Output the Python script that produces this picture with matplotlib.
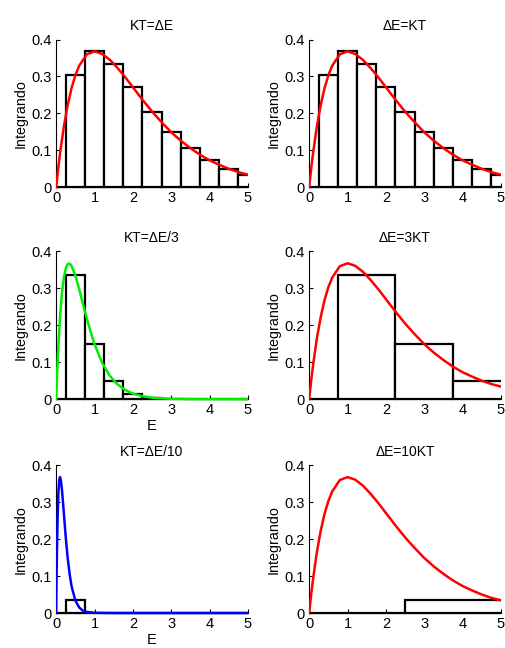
import matplotlib
matplotlib.use("Agg")
import matplotlib.pyplot as plt
from matplotlib.patches import Rectangle

plt.rcParams['font.family'] = ['Liberation Sans', 'DejaVu Sans']
plt.rcParams['path.simplify'] = False

# curve: peak ~0.368 at E=1
red_x = [0, 0.05, 0.1, 0.2, 0.3, 0.4, 0.5, 0.6, 0.8, 1.0, 1.2, 1.4, 1.6, 1.8, 2.0,
         2.25, 2.5, 2.75, 3.0, 3.25, 3.5, 3.75, 4.0, 4.25, 4.5, 4.75, 5.0]
red_y = [0, 0.048, 0.091, 0.164, 0.222, 0.268, 0.303, 0.329, 0.360, 0.368, 0.361,
         0.345, 0.323, 0.298, 0.271, 0.237, 0.205, 0.176, 0.149, 0.126, 0.106,
         0.088, 0.073, 0.061, 0.050, 0.041, 0.034]

green_x = [0, 0.02, 0.05, 0.1, 0.15, 0.2, 0.25, 0.3, 0.35, 0.4, 0.5, 0.6, 0.7, 0.8,
           0.9, 1.0, 1.2, 1.4, 1.6, 1.8, 2.0, 2.25, 2.5, 3.0, 3.5, 4.0, 5.0]
green_y = [0, 0.057, 0.129, 0.222, 0.287, 0.329, 0.354, 0.366, 0.367, 0.361, 0.335,
           0.298, 0.257, 0.218, 0.182, 0.149, 0.098, 0.063, 0.040, 0.025, 0.015,
           0.008, 0.004, 0.001, 0.0003, 0.0001, 0]

blue_x = [0, 0.01, 0.02, 0.04, 0.06, 0.08, 0.1, 0.12, 0.15, 0.2, 0.25, 0.3, 0.35,
          0.4, 0.5, 0.6, 0.7, 0.8, 1.0, 1.5, 2.0, 3.0, 4.0, 5.0]
blue_y = [0, 0.091, 0.164, 0.268, 0.329, 0.360, 0.368, 0.361, 0.335, 0.271, 0.205,
          0.149, 0.106, 0.073, 0.034, 0.015, 0.006, 0.003, 0.0005, 0, 0, 0, 0, 0]

# bars
fine_centers = [0, 0.5, 1.0, 1.5, 2.0, 2.5, 3.0, 3.5, 4.0, 4.5, 5.0]
bars_1 = [0, 0.303, 0.368, 0.335, 0.271, 0.205, 0.149, 0.106, 0.073, 0.050, 0.034]
bars_3 = [0, 0.335, 0.149, 0.050, 0.015, 0.004, 0.001, 0.0003, 0.0001, 0, 0]
bars_5 = [0, 0.034, 0.0005, 0, 0, 0, 0, 0, 0, 0, 0]
mid_centers = [0, 1.5, 3.0, 4.5]
bars_4 = [0, 0.335, 0.149, 0.050]
wide_centers = [0, 5.0]
bars_6 = [0, 0.034]

titles = ["KT=\u0394E", "\u0394E=KT", "KT=\u0394E/3", "\u0394E=3KT",
          "KT=\u0394E/10", "\u0394E=10KT"]

panels = [
    (fine_centers, bars_1, 0.5, red_x, red_y, 'red'),
    (fine_centers, bars_1, 0.5, red_x, red_y, 'red'),
    (fine_centers, bars_3, 0.5, green_x, green_y, '#00ee00'),
    (mid_centers, bars_4, 1.5, red_x, red_y, 'red'),
    (fine_centers, bars_5, 0.5, blue_x, blue_y, 'blue'),
    (wide_centers, bars_6, 5.0, red_x, red_y, 'red'),
]

fig = plt.figure(figsize=(5.06, 6.48), dpi=100)
lefts = [0.111, 0.611]
bottoms = [0.711, 0.384, 0.054]
w, h = 0.379, 0.228

for i, (cx, hy, bw, lx, ly, col) in enumerate(panels):
    r, c = divmod(i, 2)
    ax = fig.add_axes([lefts[c], bottoms[r], w, h])
    bars = ax.bar(cx, hy, width=bw, facecolor='white', edgecolor='black',
                  linewidth=1.6, zorder=2)
    # let the baseline edges show at full thickness, still cut at x limits
    clip = Rectangle((0, -0.03), 1, 1.06, transform=ax.transAxes)
    for p in bars:
        p.set_clip_box(None)
        p.set_clip_path(clip)
    curve, = ax.plot(lx, ly, color=col, linewidth=1.8, zorder=3)
    curve.set_clip_box(None)
    curve.set_clip_path(clip)
    ax.set_xlim(0, 5)
    ax.set_ylim(0, 0.4)
    ax.set_xticks([0, 1, 2, 3, 4, 5])
    ax.set_yticks([0, 0.1, 0.2, 0.3, 0.4])
    ax.set_yticklabels(['0', '0.1', '0.2', '0.3', '0.4'])
    ax.spines['top'].set_visible(False)
    ax.spines['right'].set_visible(False)
    ax.tick_params(direction='in', length=3, labelsize=10.5, pad=3)
    ax.set_ylabel("Integrando", fontsize=10.3, labelpad=3)
    ax.set_title(titles[i], fontsize=10, pad=7)
    if c == 0 and r > 0:
        ax.set_xlabel("E", fontsize=10.5, labelpad=1)

fig.savefig("out.png", dpi=100)
